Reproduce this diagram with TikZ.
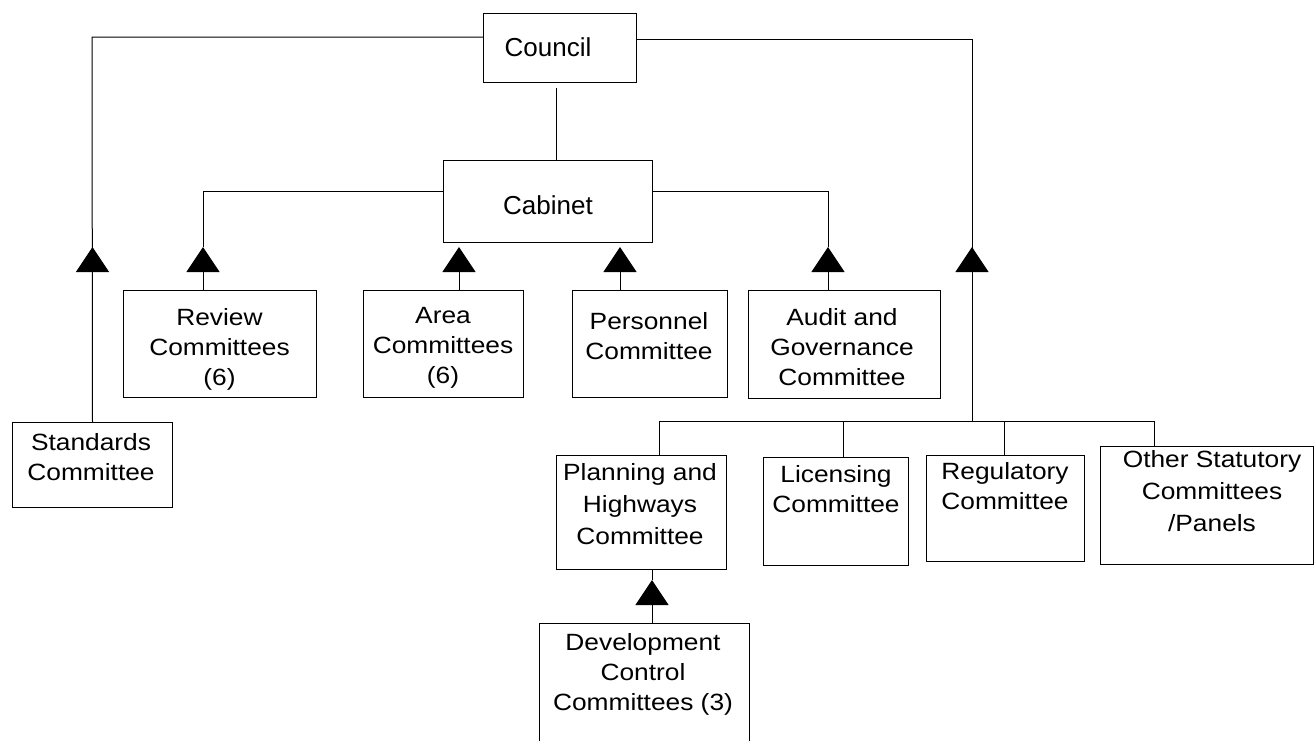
\documentclass[tikz,border=0pt]{standalone}
\usepackage{fontspec}
\setmainfont{Liberation Sans}
\newfontfamily\stretchfont{Liberation Sans}[FakeStretch=1.12]
\usetikzlibrary{arrows.meta,calc}
\begin{document}
\begin{tikzpicture}[x=1pt,y=-1pt,line width=1pt,
  box/.style={draw,line width=1pt,inner sep=0pt,anchor=north west},
  openbox/.style={inner sep=0pt,anchor=north west},
  lbl/.style={inner sep=0pt,anchor=north,align=center,font=\stretchfont\fontsize{23.5}{30}\selectfont},
  lblwide/.style={lbl,font=\stretchfont\fontsize{23.5}{32}\selectfont},
  biglbl/.style={inner sep=0pt,anchor=north,align=center,font=\fontsize{26}{30}\selectfont},
  tri/.style={-{Triangle[width=33pt 0,length=25pt 0]}},
  conn/.style={line width=1pt}]
\useasboundingbox (0,0) rectangle (1314,740);

% boxes
\node[box,minimum width=153pt,minimum height=69pt] (council) at (483,13) {};
\node[box,minimum width=209pt,minimum height=82pt] (cabinet) at (443,160) {};
\node[box,minimum width=193pt,minimum height=107pt] (review) at (123,290) {};
\node[box,minimum width=160pt,minimum height=107pt] (area) at (363,290) {};
\node[box,minimum width=155pt,minimum height=107pt] (personnel) at (572,290) {};
\node[box,minimum width=192pt,minimum height=108pt] (audit) at (748,290) {};
\node[box,minimum width=160pt,minimum height=85pt] (standards) at (12,422) {};
\node[box,minimum width=170pt,minimum height=114pt] (planning) at (556,455) {};
\node[box,minimum width=145pt,minimum height=108pt] (licensing) at (763,457) {};
\node[box,minimum width=158pt,minimum height=106pt] (regulatory) at (926,455) {};
\node[box,minimum width=213pt,minimum height=118pt] (other) at (1100,446) {};
\node[openbox,minimum width=209pt,minimum height=117pt] (dev) at (539,623) {};
\draw (dev.south west) -- (dev.north west) -- (dev.north east) -- (dev.south east);

% labels
\node[biglbl] (tcouncil) at (548,37) {Council};
\node[biglbl] (tcabinet) at (548,195) {Cabinet};
\node[lbl] (treview) at (219.5,308) {Review\\Committees\\(6)};
\node[lbl] (tarea) at (443,307) {Area\\Committees\\(6)};
\node[lbl] (tpersonnel) at (649,312) {Personnel\\Committee};
\node[lbl] (taudit) at (842,308) {Audit and\\Governance\\Committee};
\node[lbl] (tstandards) at (91,433) {Standards\\Committee};
\node[lblwide] (tplanning) at (640,463) {Planning and\\Highways\\Committee};
\node[lbl] (tlicensing) at (836,465) {Licensing\\Committee};
\node[lbl] (tregulatory) at (1005,462) {Regulatory\\Committee};
\node[lblwide] (tother) at (1212,450) {Other Statutory\\Committees\\/Panels};
\node[lbl] (tdev) at (643,633) {Development\\Control\\Committees (3)};

% helper coordinates
\coordinate (apexrow) at (0,247);
\coordinate (bus) at (0,421);
\coordinate (cl) at (92,37);
\coordinate (cr) at (972,39);
\coordinate (cc) at (556,88);
\coordinate (kl) at (203,191);
\coordinate (kr) at (828,191);
\coordinate (xa) at (459,0);
\coordinate (xp) at (620,0);
\coordinate (bP) at (659,421);
\coordinate (bL) at (843,421);
\coordinate (bR) at (1004,421);
\coordinate (bO) at (1154,421);
\coordinate (dA) at (652,580);

% Council connectors
\draw[conn] (cl -| council.west) -- (cl) -- (standards.north);
\draw[conn,tri] (standards.north) -- (standards.north |- apexrow);
\draw[conn] (cr -| council.east) -- (cr) -- (cr |- bus);
\draw[conn,tri] (cr |- bus) -- (cr |- apexrow);
\draw[conn] (cc) -- (cc |- cabinet.north);

% Cabinet connectors
\draw[conn] (kl -| cabinet.west) -- (kl) -- (kl |- apexrow);
\draw[conn,tri] (kl |- review.north) -- (kl |- apexrow);
\draw[conn] (kr -| cabinet.east) -- (kr) -- (kr |- apexrow);
\draw[conn,tri] (kr |- audit.north) -- (kr |- apexrow);
\draw[conn,tri] (xa |- area.north) -- (xa |- apexrow);
\draw[conn,tri] (xp |- personnel.north) -- (xp |- apexrow);

% statutory bus
\draw[conn] (bP) -- (bO);
\draw[conn] (bP) -- (bP |- planning.north);
\draw[conn] (bL) -- (bL |- licensing.north);
\draw[conn] (bR) -- (bR |- regulatory.north);
\draw[conn] (bO) -- (bO |- other.north);

% development control
\draw[conn] (dA |- planning.south) -- (dA);
\draw[conn,tri] (dA |- dev.north) -- (dA);
\end{tikzpicture}
\end{document}
